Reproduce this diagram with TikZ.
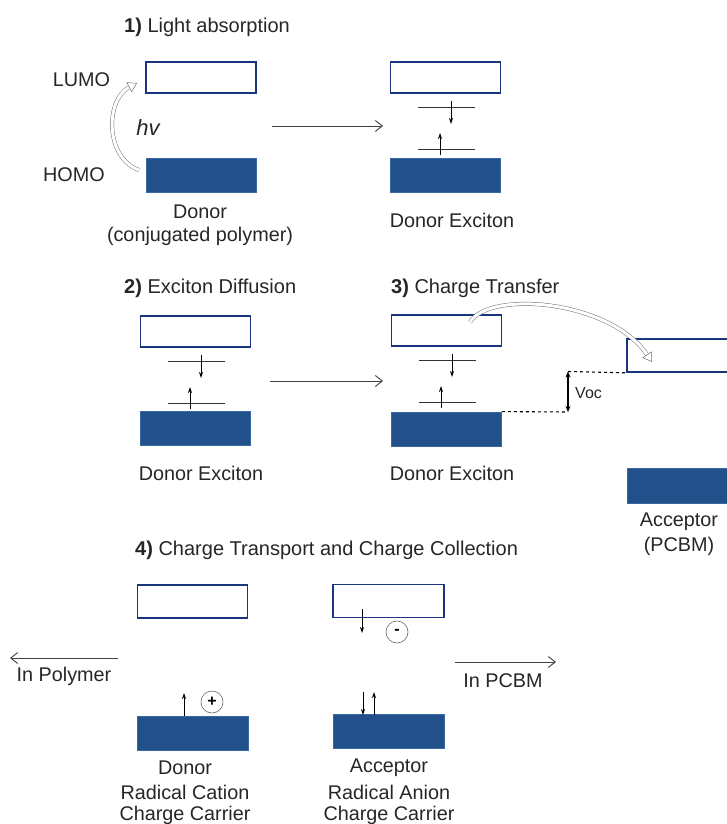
\documentclass[tikz,border=0pt]{standalone}
\usepackage{fontspec}
\setmainfont{Liberation Sans}
\usetikzlibrary{arrows.meta}
\definecolor{navy}{HTML}{1A3580}
\definecolor{boxfill}{HTML}{21508A}
\definecolor{boxedge}{HTML}{3A68A0}
\definecolor{txt}{HTML}{262626}
\begin{document}
\begin{tikzpicture}[x=1pt,y=-1pt,
  lumo/.style={draw=navy,line width=1.6pt,fill=white,minimum width=110pt,minimum height=31pt,inner sep=0pt},
  homo/.style={draw=boxedge,line width=0.8pt,fill=boxfill,minimum width=110pt,minimum height=34pt,inner sep=0pt},
  lbl/.style={text=txt,font=\fontsize{19.8}{22}\selectfont,inner sep=0pt,align=center},
  head/.style={lbl,anchor=west,font=\fontsize{20}{22}\selectfont},
  level/.style={draw=black!80,line width=0.9pt},
  spin/.style={draw=black,line width=0.9pt,-{Stealth[length=6pt,width=4pt]}},
  flow/.style={draw=black!75,line width=0.9pt,-{Straight Barb[length=7pt,width=11pt]}},
  hollow/.style={draw=black!55,line width=0.5pt,double=white,double distance=3pt,-{Triangle[open,length=9pt,width=11pt,fill=white]}},
  charge/.style={circle,draw=black!60,line width=0.6pt,minimum size=22pt,inner sep=0pt,font=\bfseries\fontsize{16}{16}\selectfont}
]
\useasboundingbox (0,0) rectangle (726,824);

% ---------- 1) Light absorption
\node[head] (h1) at (124,27) {\textbf{1)} Light absorption};
\node[lumo] (l1) at (201,77.5) {};
\node[homo] (o1) at (201,175.5) {};
\node[lbl] (tl) at (81.5,80) {LUMO};
\node[lbl] (th) at (74,175) {HOMO};
\node[lbl,font=\itshape\fontsize{22}{24}\selectfont] (hv) at (148,128) {hv};
\node[lbl] (d1) at (200,212) {Donor};
\node[lbl] (d1b) at (200,236) {(conjugated polymer)};
\coordinate (c1s) at (139,170);
\coordinate (c1e) at (137,83);
\draw[hollow] (c1s) .. controls (105,158) and (105,100) .. (c1e);

\coordinate (a1s) at (272,126);
\coordinate (a1e) at (383,126);
\draw[flow] (a1s) -- (a1e);

\node[lumo] (l1b) at (445.5,77.5) {};
\node[homo] (o1b) at (445.5,175.5) {};
\coordinate (e1a) at (418,107); \coordinate (e1b) at (475,107);
\coordinate (e1c) at (418,149); \coordinate (e1d) at (475,149);
\draw[level] (e1a) -- (e1b);
\draw[level] (e1c) -- (e1d);
\coordinate (s1a) at (451,101); \coordinate (s1b) at (451,124);
\coordinate (s1c) at (440,155); \coordinate (s1d) at (440,133);
\draw[spin] (s1a) -- (s1b);
\draw[spin] (s1c) -- (s1d);
\node[lbl] (de1) at (452,220) {Donor Exciton};

% ---------- 2) Exciton diffusion
\node[head] (h2) at (124,288) {\textbf{2)} Exciton Diffusion};
\node[lumo] (l2) at (195.5,331.5) {};
\node[homo] (o2) at (195.5,428.5) {};
\coordinate (e2a) at (168,361); \coordinate (e2b) at (225,361);
\coordinate (e2c) at (168,403); \coordinate (e2d) at (225,403);
\draw[level] (e2a) -- (e2b);
\draw[level] (e2c) -- (e2d);
\coordinate (s2a) at (201,355); \coordinate (s2b) at (201,378);
\coordinate (s2c) at (190,409); \coordinate (s2d) at (190,387);
\draw[spin] (s2a) -- (s2b);
\draw[spin] (s2c) -- (s2d);
\node[lbl] (de2) at (201,473) {Donor Exciton};

\coordinate (a2s) at (270,381);
\coordinate (a2e) at (383,381);
\draw[flow] (a2s) -- (a2e);

% ---------- 3) Charge transfer
\node[head] (h3) at (391,288) {\textbf{3)} Charge Transfer};
\node[lumo] (l3) at (446.5,330.5) {};
\node[homo] (o3) at (446.5,429) {};
\coordinate (e3a) at (419,360); \coordinate (e3b) at (476,360);
\coordinate (e3c) at (419,402); \coordinate (e3d) at (476,402);
\draw[level] (e3a) -- (e3b);
\draw[level] (e3c) -- (e3d);
\coordinate (s3a) at (452,354); \coordinate (s3b) at (452,377);
\coordinate (s3c) at (441,408); \coordinate (s3d) at (441,386);
\draw[spin] (s3a) -- (s3b);
\draw[spin] (s3c) -- (s3d);
\node[lbl] (de3) at (452,473) {Donor Exciton};

\node[lumo,minimum width=104pt,minimum height=33pt] (la) at (679,355.5) {};
\node[homo,minimum width=104pt,minimum height=35pt] (oa) at (679,485.5) {};
\node[lbl] (ac1) at (679,522) {Acceptor};
\node[lbl] (ac2) at (679,546) {(PCBM)};

\coordinate (ct1) at (470,322);
\coordinate (ct2) at (652,362);
\draw[hollow] (ct1) .. controls (490,290) and (610,300) .. (ct2);

\coordinate (vtop) at (568,371.5);
\coordinate (vbot) at (568,412);
\draw[dashed,line width=1.1pt] (o3.north east) -- (vbot);
\draw[dashed,line width=1.1pt] (vtop) -- (la.south west);
\draw[line width=1.1pt,{Stealth[length=6pt,width=5pt]}-{Stealth[length=6pt,width=5pt]}] (vtop) -- (vbot);
\node[lbl,anchor=west,font=\fontsize{16}{18}\selectfont] (voc) at (575,393) {Voc};

% ---------- 4) Charge transport
\node[head] (h4) at (135,550) {\textbf{4)} Charge Transport and Charge Collection};
\node[lumo,minimum height=33pt] (l4) at (192.5,601.5) {};
\node[homo,minimum width=111pt] (o4) at (192.5,733.5) {};
\coordinate (s4a) at (184,716); \coordinate (s4b) at (184,693);
\draw[spin] (s4a) -- (s4b);
\node[charge] (plus) at (212,702) {+};
\node[lbl] (b1) at (185,768) {Donor};
\node[lbl] (b2) at (185,792) {Radical Cation};
\node[lbl] (b3) at (185,815) {Charge Carrier};

\node[lumo,minimum width=111pt,minimum height=33pt] (l5) at (388.5,601) {};
\node[homo,minimum width=111pt] (o5) at (389,731.5) {};
\coordinate (s5a) at (362,609); \coordinate (s5b) at (362,633);
\draw[spin] (s5a) -- (s5b);
\node[charge] (minus) at (397,632) {-};
\coordinate (s6a) at (363,692); \coordinate (s6b) at (363,715);
\coordinate (s6c) at (374,715); \coordinate (s6d) at (374,692);
\draw[spin] (s6a) -- (s6b);
\draw[spin] (s6c) -- (s6d);
\node[lbl] (b4) at (389,768) {Acceptor};
\node[lbl] (b5) at (389,792) {Radical Anion};
\node[lbl] (b6) at (389,815) {Charge Carrier};

\coordinate (pa) at (118,658);
\coordinate (pb) at (10,658);
\draw[flow] (pa) -- (pb);
\node[lbl] (ipo) at (64,676) {In Polymer};
\coordinate (qa) at (455,662);
\coordinate (qb) at (556,662);
\draw[flow] (qa) -- (qb);
\node[lbl] (ipc) at (503,681) {In PCBM};
\end{tikzpicture}
\end{document}
